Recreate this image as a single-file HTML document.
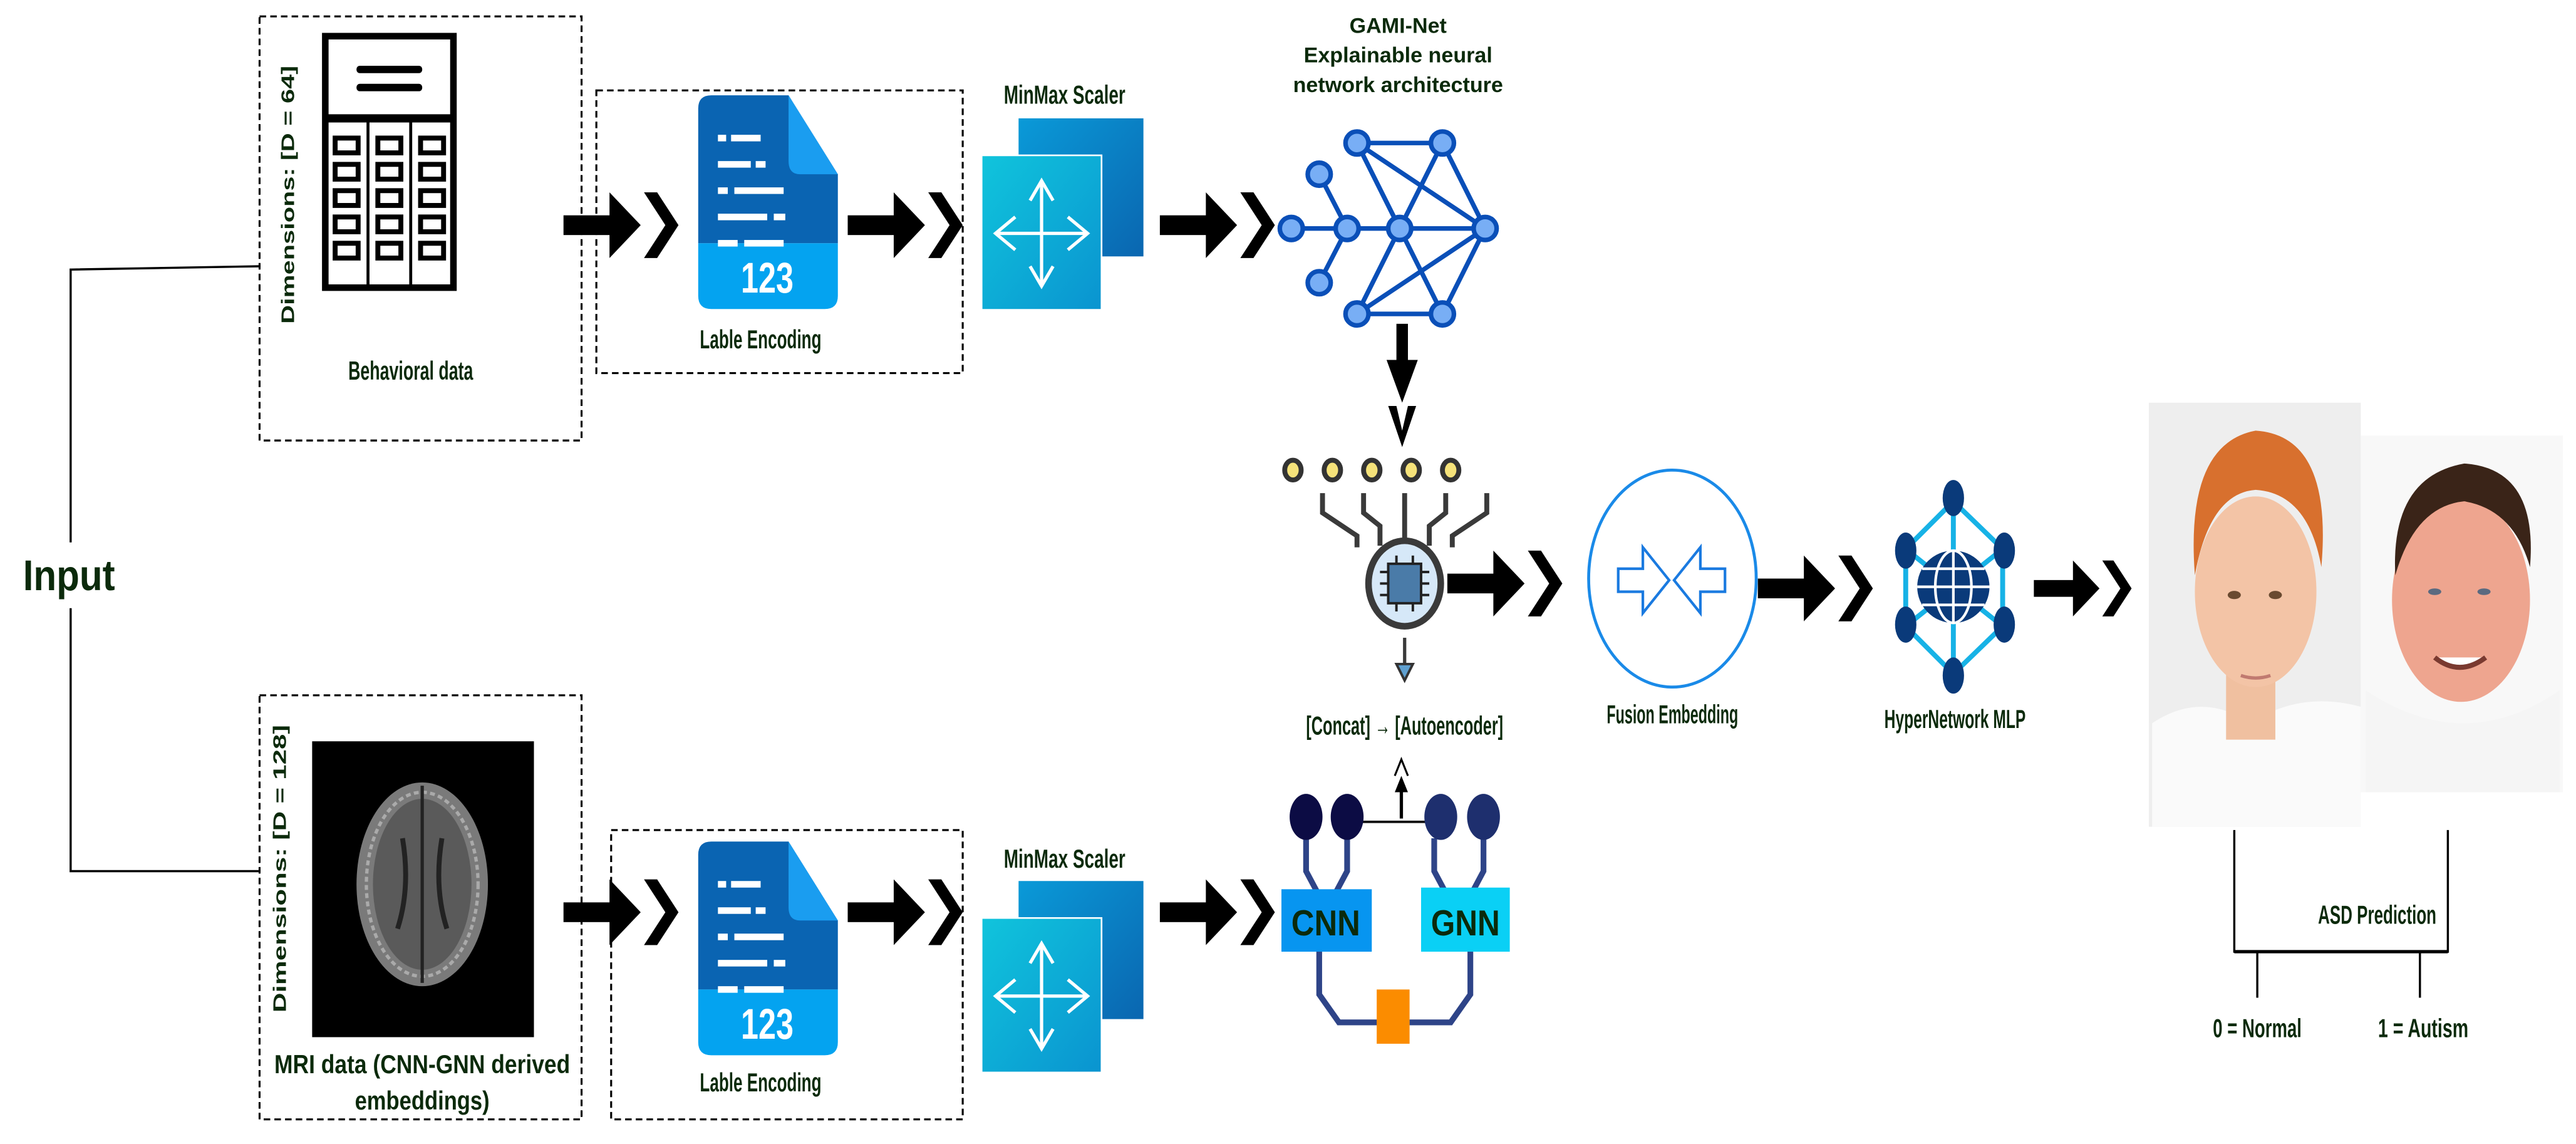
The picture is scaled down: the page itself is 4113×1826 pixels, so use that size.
<!DOCTYPE html>
<html><head><meta charset="utf-8"><style>
html,body{margin:0;padding:0;background:#fff;}
svg{display:block;}
text{font-family:"Liberation Sans Narrow","Liberation Sans",sans-serif;font-weight:bold;fill:#0b2a0b;}
.c{font-family:"Liberation Sans",sans-serif;}
</style></head><body>
<svg width="4113" height="1826" viewBox="0 0 1568 696" preserveAspectRatio="none" xmlns="http://www.w3.org/2000/svg">
<defs>
<g id="arr">
<rect x="0" y="-6" width="30" height="12" fill="#000"/>
<polygon points="28,-20 47,0 28,20" fill="#000"/>
<polygon points="49,-20 57,-20 70,0 57,20 49,20 62,0" fill="#000"/>
</g>
<g id="doc">
<path d="M0,8 Q0,0 8,0 L55,0 L85,48 L85,90 L0,90 Z" fill="#0a64b2"/>
<path d="M55,0 L85,48 L62,48 Q55,48 55,40 Z" fill="#1a9df0"/>
<path d="M0,90 L85,90 L85,122 Q85,130 77,130 L8,130 Q0,130 0,122 Z" fill="#04a3f0"/>
<g fill="#fff">
<rect x="12" y="24" width="5" height="4"/><rect x="20" y="24" width="18" height="4"/>
<rect x="12" y="40" width="20" height="4"/><rect x="35" y="40" width="6" height="4"/>
<rect x="12" y="56" width="6" height="4"/><rect x="22" y="56" width="30" height="4"/>
<rect x="12" y="72" width="30" height="4"/><rect x="46" y="72" width="7" height="4"/>
<rect x="12" y="88" width="12" height="4"/><rect x="28" y="88" width="24" height="4"/>
</g>
<text x="42" y="120" text-anchor="middle" font-size="26" style="fill:#fff" textLength="32" lengthAdjust="spacingAndGlyphs">123</text>
</g>
<linearGradient id="gb" x1="0" y1="0" x2="1" y2="1"><stop offset="0" stop-color="#0a9ad8"/><stop offset="1" stop-color="#0a66b0"/></linearGradient>
<linearGradient id="gc" x1="0" y1="0" x2="1" y2="1"><stop offset="0" stop-color="#10c4dc"/><stop offset="1" stop-color="#0a94d0"/></linearGradient>
<g id="mm">
<rect x="22" y="0" width="76" height="84" fill="url(#gb)"/>
<rect x="-1" y="22" width="74" height="95" fill="#fff"/>
<rect x="0" y="23" width="72" height="93" fill="url(#gc)"/>
<g stroke="#fff" stroke-width="2" fill="none">
<line x1="36" y1="38" x2="36" y2="102"/><line x1="8" y1="70" x2="64" y2="70"/>
<polyline points="29,50 36,38 43,50"/><polyline points="29,90 36,102 43,90"/>
<polyline points="20,60 8,70 20,80"/><polyline points="52,60 64,70 52,80"/>
</g>
</g>
</defs>

<g stroke="#000" stroke-width="1.3" fill="none">
<polyline points="158,162 43,164 43,330"/>
<polyline points="43,370 43,530 158,530"/>
</g>
<text x="14" y="359" font-size="26" textLength="56" lengthAdjust="spacingAndGlyphs">Input</text>

<rect x="158" y="10" width="196" height="258" fill="none" stroke="#000" stroke-width="1.2" stroke-dasharray="4,2.5"/>
<g>
<rect x="198" y="22" width="78" height="153" fill="#fff" stroke="#000" stroke-width="4"/>
<line x1="198" y1="72" x2="276" y2="72" stroke="#000" stroke-width="5"/>
<rect x="217" y="40" width="40" height="4.5" rx="2" fill="#000"/>
<rect x="217" y="51" width="40" height="4.5" rx="2" fill="#000"/>
<line x1="224" y1="72" x2="224" y2="175" stroke="#000" stroke-width="1.8"/>
<line x1="250" y1="72" x2="250" y2="175" stroke="#000" stroke-width="1.8"/>
<g fill="none" stroke="#000" stroke-width="3">
<rect x="204" y="84" width="14" height="9"/><rect x="230" y="84" width="14" height="9"/><rect x="256" y="84" width="14" height="9"/>
<rect x="204" y="100" width="14" height="9"/><rect x="230" y="100" width="14" height="9"/><rect x="256" y="100" width="14" height="9"/>
<rect x="204" y="116" width="14" height="9"/><rect x="230" y="116" width="14" height="9"/><rect x="256" y="116" width="14" height="9"/>
<rect x="204" y="132" width="14" height="9"/><rect x="230" y="132" width="14" height="9"/><rect x="256" y="132" width="14" height="9"/>
<rect x="204" y="148" width="14" height="9"/><rect x="230" y="148" width="14" height="9"/><rect x="256" y="148" width="14" height="9"/>
</g>
</g>
<text class="c" transform="translate(179,197) rotate(-90)" font-size="11" textLength="157" lengthAdjust="spacingAndGlyphs">Dimensions: [D = 64]</text>
<text x="250" y="231" text-anchor="middle" font-size="16" textLength="76" lengthAdjust="spacingAndGlyphs">Behavioral data</text>

<rect x="363" y="55" width="223" height="172" fill="none" stroke="#000" stroke-width="1.2" stroke-dasharray="4,2.5"/>
<use href="#doc" x="425" y="58"/>
<text x="463" y="212" text-anchor="middle" font-size="16" textLength="74" lengthAdjust="spacingAndGlyphs">Lable Encoding</text>
<text x="648" y="63" text-anchor="middle" font-size="16" textLength="74" lengthAdjust="spacingAndGlyphs">MinMax Scaler</text>
<use href="#mm" x="598" y="72"/>

<use href="#arr" x="343" y="137"/>
<use href="#arr" x="516" y="137"/>
<use href="#arr" x="706" y="137"/>

<text class="c" x="851" y="20" text-anchor="middle" font-size="13">GAMI-Net</text>
<text class="c" x="851" y="38" text-anchor="middle" font-size="13">Explainable neural</text>
<text class="c" x="851" y="56" text-anchor="middle" font-size="13">network architecture</text>
<g stroke="#0a4fb8" stroke-width="2.8" fill="#78aef5">
<g fill="none">
<line x1="786" y1="139" x2="820" y2="139"/><line x1="820" y1="139" x2="803" y2="106"/><line x1="820" y1="139" x2="803" y2="172"/><line x1="820" y1="139" x2="852" y2="139"/>
<line x1="826" y1="87" x2="878" y2="87"/><line x1="826" y1="87" x2="852" y2="139"/><line x1="826" y1="87" x2="904" y2="139"/>
<line x1="878" y1="87" x2="852" y2="139"/><line x1="878" y1="87" x2="904" y2="139"/><line x1="852" y1="139" x2="904" y2="139"/>
<line x1="852" y1="139" x2="826" y2="191"/><line x1="852" y1="139" x2="878" y2="191"/><line x1="826" y1="191" x2="878" y2="191"/>
<line x1="826" y1="191" x2="904" y2="139"/><line x1="878" y1="191" x2="904" y2="139"/>
</g>
<circle cx="786" cy="139" r="7"/><circle cx="820" cy="139" r="7"/><circle cx="803" cy="106" r="7"/><circle cx="803" cy="172" r="7"/>
<circle cx="826" cy="87" r="7"/><circle cx="878" cy="87" r="7"/><circle cx="852" cy="139" r="7"/><circle cx="904" cy="139" r="7"/>
<circle cx="826" cy="191" r="7"/><circle cx="878" cy="191" r="7"/>
</g>
<rect x="850" y="197" width="7" height="24" fill="#000"/>
<polygon points="844,219 863,219 853.5,245" fill="#000"/>
<polygon points="845,247 850,247 853.5,262 857,247 862,247 853.5,272" fill="#000"/>

<g stroke="#3a3a3a" stroke-width="3" fill="none">
<polyline points="805,300 805,312 826,326 826,333"/>
<polyline points="830,300 830,312 840,320 840,332"/>
<line x1="855" y1="300" x2="855" y2="330"/>
<polyline points="880,300 880,312 870,320 870,332"/>
<polyline points="905,300 905,312 884,326 884,333"/>
</g>
<g fill="#f5e27a" stroke="#333" stroke-width="3">
<ellipse cx="787" cy="286" rx="5" ry="6"/><ellipse cx="811" cy="286" rx="5" ry="6"/><ellipse cx="835" cy="286" rx="5" ry="6"/><ellipse cx="859" cy="286" rx="5" ry="6"/><ellipse cx="883" cy="286" rx="5" ry="6"/>
</g>
<ellipse cx="855" cy="355" rx="22" ry="26" fill="#d6e8f8" stroke="#3a3a3a" stroke-width="4"/>
<rect x="845" y="343" width="20" height="24" fill="#4a7ba8" stroke="#222" stroke-width="1.5"/>
<g stroke="#222" stroke-width="1.5"><line x1="840" y1="348" x2="845" y2="348"/><line x1="840" y1="355" x2="845" y2="355"/><line x1="840" y1="362" x2="845" y2="362"/><line x1="865" y1="348" x2="870" y2="348"/><line x1="865" y1="355" x2="870" y2="355"/><line x1="865" y1="362" x2="870" y2="362"/><line x1="850" y1="338" x2="850" y2="343"/><line x1="860" y1="338" x2="860" y2="343"/><line x1="850" y1="367" x2="850" y2="372"/><line x1="860" y1="367" x2="860" y2="372"/></g>
<line x1="855" y1="388" x2="855" y2="404" stroke="#3a3a3a" stroke-width="2"/>
<polygon points="850,404 860,404 855,414" fill="#5fa0d0" stroke="#333" stroke-width="1.5"/>
<text x="855" y="447" text-anchor="middle" font-size="16" textLength="120" lengthAdjust="spacingAndGlyphs">[Concat] → [Autoencoder]</text>
<line x1="853" y1="480" x2="853" y2="498" stroke="#000" stroke-width="2"/>
<polygon points="849,482 857,482 853,472" fill="#000"/>
<polyline points="849,472 853,462 857,472" fill="none" stroke="#000" stroke-width="1.2"/>

<use href="#arr" x="881" y="355"/>

<ellipse cx="1018" cy="352" rx="51" ry="66" fill="none" stroke="#1a8ae8" stroke-width="1.8"/>
<g fill="none" stroke="#1a7ae0" stroke-width="1.6">
<polygon points="985,346 1000,346 1000,333 1016,353 1000,373 1000,360 985,360"/>
<polygon points="1050,346 1035,346 1035,333 1019,353 1035,373 1035,360 1050,360"/>
</g>
<text x="1018" y="440" text-anchor="middle" font-size="16" textLength="80" lengthAdjust="spacingAndGlyphs">Fusion Embedding</text>

<use href="#arr" x="1070" y="358"/>

<g stroke="#17b2e6" stroke-width="3" fill="none">
<polygon points="1189,305 1219,334 1219,381 1189,410 1160,381 1160,334"/>
<line x1="1189" y1="305" x2="1189" y2="410"/>
<line x1="1160" y1="334" x2="1219" y2="381"/>
<line x1="1219" y1="334" x2="1160" y2="381"/>
</g>
<circle cx="1189" cy="357" r="22" fill="#0a3a7a"/>
<g stroke="#fff" stroke-width="1.6" fill="none">
<line x1="1167" y1="357" x2="1211" y2="357"/><line x1="1189" y1="335" x2="1189" y2="379"/>
<ellipse cx="1189" cy="357" rx="11" ry="22"/>
<line x1="1170" y1="346" x2="1208" y2="346"/><line x1="1170" y1="368" x2="1208" y2="368"/>
</g>
<g fill="#0a3a7a">
<ellipse cx="1189" cy="303" rx="6.5" ry="11"/><ellipse cx="1220" cy="335" rx="6.5" ry="11"/><ellipse cx="1220" cy="380" rx="6.5" ry="11"/>
<ellipse cx="1189" cy="411" rx="6.5" ry="11"/><ellipse cx="1160" cy="380" rx="6.5" ry="11"/><ellipse cx="1160" cy="335" rx="6.5" ry="11"/>
</g>
<text x="1190" y="443" text-anchor="middle" font-size="16" textLength="86" lengthAdjust="spacingAndGlyphs">HyperNetwork MLP</text>

<use href="#arr" x="1238" y="358" transform="translate(1238,358) scale(0.85) translate(-1238,-358)"/>

<rect x="1308" y="245" width="129" height="258" fill="#eeeeee"/>
<path d="M1310,503 L1310,440 Q1340,420 1370,440 Q1400,420 1437,430 L1437,503 Z" fill="#fafafa"/>
<rect x="1355" y="400" width="30" height="50" fill="#f0c0a0"/>
<ellipse cx="1373" cy="360" rx="37" ry="58" fill="#f3c4a6"/>
<path d="M1336,350 Q1330,270 1373,262 Q1420,265 1413,345 Q1405,300 1373,298 Q1345,300 1336,350 Z" fill="#d8702e"/>
<ellipse cx="1360" cy="362" rx="4" ry="2.5" fill="#6a4a30"/><ellipse cx="1385" cy="362" rx="4" ry="2.5" fill="#6a4a30"/>
<path d="M1364,411 Q1373,414 1382,411" stroke="#c07a70" stroke-width="2" fill="none"/>
<rect x="1437" y="265" width="123" height="217" fill="#f8f8f8"/>
<path d="M1440,482 L1440,420 Q1500,460 1558,420 L1558,482 Z" fill="#f5f5f5"/>
<ellipse cx="1498" cy="365" rx="42" ry="62" fill="#eea58f"/>
<path d="M1458,350 Q1455,290 1500,282 Q1545,285 1540,345 Q1530,310 1500,305 Q1470,308 1458,350 Z" fill="#3a2418"/>
<ellipse cx="1482" cy="360" rx="4" ry="2" fill="#5a6a80"/><ellipse cx="1512" cy="360" rx="4" ry="2" fill="#5a6a80"/>
<path d="M1482,400 Q1497,412 1513,400" stroke="#7a3a30" stroke-width="3" fill="#fff"/>
<g stroke="#000" stroke-width="1.3" fill="none">
<polyline points="1360,505 1360,579 1490,579 1490,505"/>
<line x1="1374" y1="579" x2="1374" y2="607"/><line x1="1473" y1="579" x2="1473" y2="607"/>
</g>
<line x1="1360" y1="579" x2="1490" y2="579" stroke="#000" stroke-width="2"/>
<text x="1447" y="562" text-anchor="middle" font-size="16" textLength="72" lengthAdjust="spacingAndGlyphs">ASD Prediction</text>
<text x="1374" y="631" text-anchor="middle" font-size="16" textLength="54" lengthAdjust="spacingAndGlyphs">0 = Normal</text>
<text x="1475" y="631" text-anchor="middle" font-size="16" textLength="55" lengthAdjust="spacingAndGlyphs">1 = Autism</text>

<rect x="158" y="423" width="196" height="258" fill="none" stroke="#000" stroke-width="1.2" stroke-dasharray="4,2.5"/>
<rect x="190" y="451" width="135" height="180" fill="#000"/>
<ellipse cx="257" cy="538" rx="40" ry="62" fill="#7a7a7a"/>
<ellipse cx="257" cy="538" rx="30" ry="52" fill="#5a5a5a"/>
<ellipse cx="257" cy="538" rx="34" ry="56" fill="none" stroke="#aaa" stroke-width="2" stroke-dasharray="3,2"/>
<line x1="257" y1="478" x2="257" y2="598" stroke="#222" stroke-width="2"/>
<path d="M245,510 Q250,540 242,565 M269,510 Q264,540 272,565" stroke="#222" stroke-width="3" fill="none"/>
<text class="c" transform="translate(174,616) rotate(-90)" font-size="11" textLength="175" lengthAdjust="spacingAndGlyphs">Dimensions: [D = 128]</text>
<text x="257" y="653" text-anchor="middle" font-size="16" textLength="180" lengthAdjust="spacingAndGlyphs">MRI data (CNN-GNN derived</text>
<text x="257" y="675" text-anchor="middle" font-size="16" textLength="82" lengthAdjust="spacingAndGlyphs">embeddings)</text>

<rect x="372" y="505" width="214" height="176" fill="none" stroke="#000" stroke-width="1.2" stroke-dasharray="4,2.5"/>
<use href="#doc" x="425" y="512"/>
<text x="463" y="664" text-anchor="middle" font-size="16" textLength="74" lengthAdjust="spacingAndGlyphs">Lable Encoding</text>
<text x="648" y="528" text-anchor="middle" font-size="16" textLength="74" lengthAdjust="spacingAndGlyphs">MinMax Scaler</text>
<use href="#mm" x="598" y="536"/>

<use href="#arr" x="343" y="555"/>
<use href="#arr" x="516" y="555"/>
<use href="#arr" x="706" y="555"/>

<g stroke="#2e4488" stroke-width="3.5" fill="none">
<polyline points="795,510 795,530 803,545 803,560"/>
<polyline points="820,510 820,530 812,545 812,560"/>
<polyline points="873,510 873,530 881,545 881,560"/>
<polyline points="903,510 903,530 895,545 895,560"/>
<polyline points="803,575 803,605 815,622 840,622"/>
<polyline points="895,575 895,605 883,622 858,622"/>
</g>
<line x1="820" y1="500" x2="880" y2="500" stroke="#111" stroke-width="1.5"/>
<g fill="#0c0c44"><ellipse cx="795" cy="497" rx="10" ry="14"/><ellipse cx="820" cy="497" rx="10" ry="14"/></g>
<g fill="#1e2f6e"><ellipse cx="877" cy="497" rx="10" ry="14"/><ellipse cx="903" cy="497" rx="10" ry="14"/></g>
<rect x="780" y="541" width="55" height="38" fill="#0795f0"/>
<rect x="865" y="540" width="54" height="39" fill="#0ad0f5"/>
<text x="807" y="569" text-anchor="middle" font-size="22" textLength="42" lengthAdjust="spacingAndGlyphs">CNN</text>
<text x="892" y="569" text-anchor="middle" font-size="22" textLength="42" lengthAdjust="spacingAndGlyphs">GNN</text>
<rect x="838" y="602" width="20" height="33" fill="#fb8c00"/>
</svg>
</body></html>
